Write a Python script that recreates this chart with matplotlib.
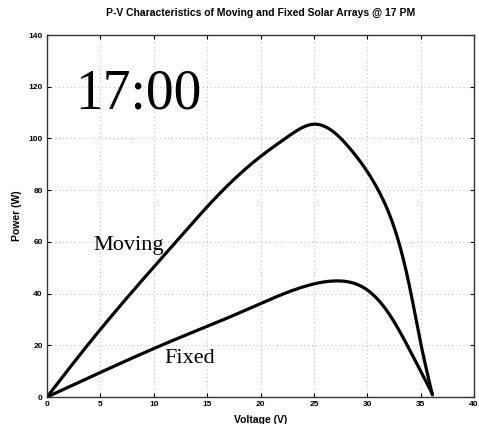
import matplotlib
matplotlib.use("Agg")
import matplotlib.pyplot as plt
import numpy as np

# Data
moving_v = [0, 3.5, 7.5, 11.8, 16.9, 20.0, 22.5, 25.0, 27.0, 28.4, 30.9, 32.8, 34.0, 34.9, 36.1]
moving_p = [0, 18.5, 38.4, 58.7, 81.7, 93.0, 100.5, 105.5, 102.0, 96.0, 81.0, 62.0, 42.0, 23.0, 0.8]
fixed_v = [0, 5.0, 11.8, 18.0, 23.7, 27.2, 30.0, 32.1, 34.0, 36.1]
fixed_p = [0, 9.5, 21.9, 32.5, 42.2, 44.9, 41.4, 31.8, 18.0, 1.2]

x_ticks = [0, 5, 10, 15, 20, 25, 30, 35, 40]
y_ticks = [0, 20, 40, 60, 80, 100, 120, 140]

title = "P-V Characteristics of Moving and Fixed Solar Arrays @ 17 PM"


def spline(xs, ys, n=400):
    """Natural cubic spline through the read points."""
    x = np.asarray(xs, float); y = np.asarray(ys, float)
    m = len(x)
    h = np.diff(x)
    A = np.zeros((m, m)); b = np.zeros(m)
    A[0, 0] = 1; A[-1, -1] = 1
    for i in range(1, m - 1):
        A[i, i-1] = h[i-1]; A[i, i] = 2*(h[i-1] + h[i]); A[i, i+1] = h[i]
        b[i] = 3*((y[i+1]-y[i])/h[i] - (y[i]-y[i-1])/h[i-1])
    c = np.linalg.solve(A, b)
    xx = np.linspace(x[0], x[-1], n)
    idx = np.clip(np.searchsorted(x, xx) - 1, 0, m - 2)
    dx = xx - x[idx]
    bb = (y[idx+1]-y[idx])/h[idx] - h[idx]*(2*c[idx] + c[idx+1])/3
    d = (c[idx+1] - c[idx])/(3*h[idx])
    yy = y[idx] + bb*dx + c[idx]*dx**2 + d*dx**3
    return xx, yy


fig = plt.figure(figsize=(4.79, 4.24), dpi=100)
ax = fig.add_axes([47/479, 1-397/424, (474-47)/479, (397-35)/424])

mx, my = spline(moving_v, moving_p)
fx, fy = spline(fixed_v, fixed_p)
ax.plot(mx, my, color="black", lw=2.3, solid_capstyle="round")
ax.plot(fx, fy, color="black", lw=2.3, solid_capstyle="round")

ax.set_xlim(0, 40)
ax.set_ylim(0, 140)
ax.set_xticks(x_ticks)
ax.set_yticks(y_ticks)
ax.set_xticklabels([str(v) for v in x_ticks], fontsize=6, fontweight="bold", family="Liberation Sans")
ax.set_yticklabels([str(v) for v in y_ticks], fontsize=6, fontweight="bold", family="Liberation Sans")
ax.tick_params(direction="in", top=True, right=True, length=3, width=0.8, pad=3)
ax.grid(True, color="#bbbbbb", linestyle=(0, (1, 3)), linewidth=0.7)
for s in ax.spines.values():
    s.set_linewidth(1.0)
    s.set_color("#333333")

ax.set_title(title, fontsize=7.5, fontweight="bold", family="Liberation Sans", pad=14)
ax.set_xlabel("Voltage (V)", fontsize=7.5, fontweight="bold", family="Liberation Sans", labelpad=5)
ax.set_ylabel("Power (W)", fontsize=7.5, fontweight="bold", family="Liberation Sans", labelpad=5)

ax.text(0.066, 0.835, "17:00", transform=ax.transAxes, fontsize=40, family="Liberation Serif",
        va="center", ha="left")
ax.text(7.6, 58.5, "Moving", fontsize=16, family="Liberation Serif", va="center", ha="center")
ax.text(13.4, 15.0, "Fixed", fontsize=16, family="Liberation Serif", va="center", ha="center")

fig.savefig("out.png", dpi=100)
